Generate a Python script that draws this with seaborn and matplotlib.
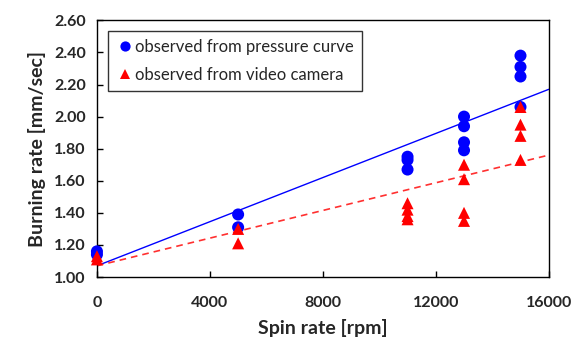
import numpy as np
import pandas as pd
import matplotlib
matplotlib.use("Agg")
import matplotlib.pyplot as plt
import seaborn as sns

# Burning rate measurements vs. spin rate
pressure_rpm = [0, 0, 5000, 5000, 11000, 11000, 11000,
                13000, 13000, 13000, 13000, 15000, 15000, 15000, 15000]
pressure_rate = [1.16, 1.14, 1.39, 1.31, 1.75, 1.73, 1.67,
                 2.00, 1.94, 1.84, 1.79, 2.38, 2.31, 2.25, 2.06]

video_rpm = [0, 0, 5000, 5000, 11000, 11000, 11000, 11000,
             13000, 13000, 13000, 13000, 15000, 15000, 15000, 15000]
video_rate = [1.13, 1.11, 1.30, 1.21, 1.46, 1.42, 1.38, 1.36,
              1.70, 1.61, 1.40, 1.35, 2.06, 1.95, 1.88, 1.73]

series_names = ["observed from pressure curve", "observed from video camera"]

# Linear trend lines: rate at 0 rpm and at 16000 rpm
trend_rpm = [0, 16000]
pressure_trend = [1.07, 2.17]
video_trend = [1.07, 1.76]

x_ticks = [0, 4000, 8000, 12000, 16000]
y_ticks = [1.00, 1.20, 1.40, 1.60, 1.80, 2.00, 2.20, 2.40, 2.60]

df = pd.DataFrame({
    "rpm": pressure_rpm + video_rpm,
    "rate": pressure_rate + video_rate,
    "source": [series_names[0]] * len(pressure_rpm) + [series_names[1]] * len(video_rpm),
})

sns.set_style("ticks")
plt.rcParams["font.family"] = ["Lato", "DejaVu Sans"]

fig = plt.figure(figsize=(5.77, 3.45), dpi=100)
ax = fig.add_axes([0.168, 0.197, 0.783, 0.744])

ax.plot(trend_rpm, pressure_trend, color="#0000ff", lw=1.0, zorder=2)
ax.plot(trend_rpm, video_trend, color="#ff3030", lw=1.2, ls=(0, (4, 3)), zorder=2)

sns.scatterplot(data=df, x="rpm", y="rate", hue="source", style="source",
                hue_order=series_names, style_order=series_names,
                palette=["#0000ff", "#ff0000"], markers=["o", "^"],
                s=75, linewidth=0, ax=ax, zorder=3, clip_on=False)

ax.set_xlim(0, 16000)
ax.set_ylim(1.0, 2.6)
ax.set_xticks(x_ticks)
ax.set_yticks(y_ticks)
ax.set_xticklabels([f"{t}" for t in x_ticks], fontweight="bold", fontsize=11.5)
ax.set_yticklabels([f"{t:.2f}" for t in y_ticks], fontweight="bold", fontsize=11.5)
ax.tick_params(axis="both", direction="in", length=4, width=1, color="black")
ax.tick_params(axis="x", pad=14)
ax.tick_params(axis="y", pad=8)

for sp in ax.spines.values():
    sp.set_color("black")
    sp.set_linewidth(1.0)

ax.set_xlabel("Spin rate [rpm]", fontweight="bold", fontsize=14, labelpad=6)
ax.set_ylabel("Burning rate [mm/sec]", fontweight="bold", fontsize=14, labelpad=6)

leg = ax.legend(loc="upper left", bbox_to_anchor=(0.024, 0.96), borderaxespad=0,
                fontsize=12, frameon=True, fancybox=False, edgecolor="black",
                handletextpad=0.05, borderpad=0.5, labelspacing=0.7,
                handlelength=1.1, markerscale=0.85)
leg.get_frame().set_linewidth(1.0)

fig.savefig("out.png", dpi=100)
